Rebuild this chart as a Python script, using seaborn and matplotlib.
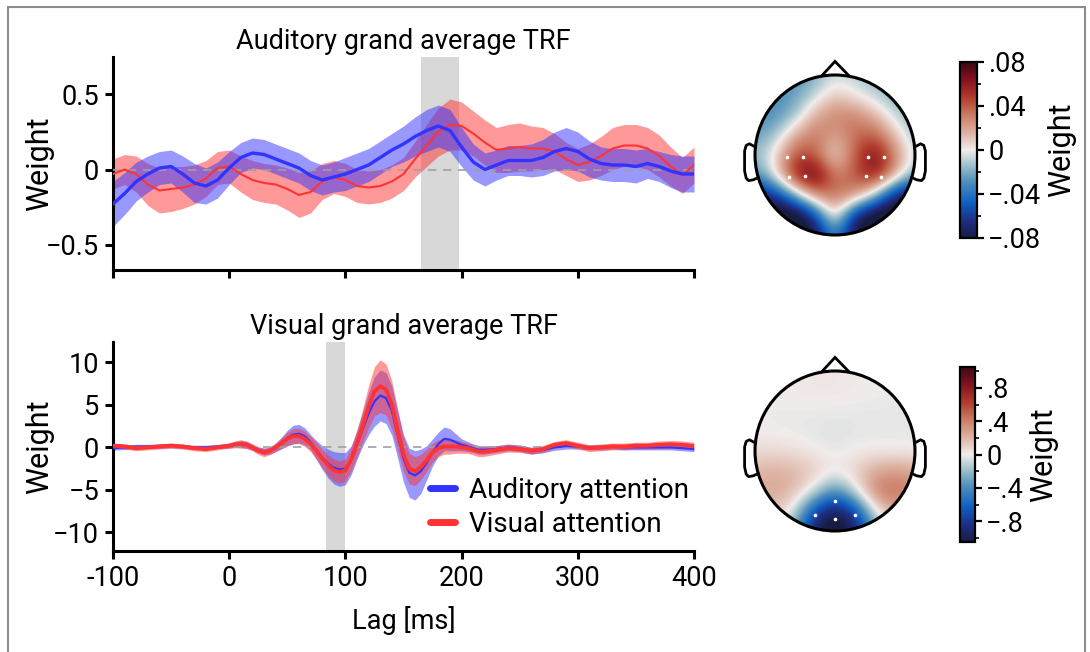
import numpy as np
import pandas as pd
import matplotlib
matplotlib.use("Agg")
import matplotlib.pyplot as plt
import seaborn as sns
from matplotlib.colors import LinearSegmentedColormap, Normalize
from matplotlib.patches import Circle, Rectangle
from matplotlib.lines import Line2D
from matplotlib.cm import ScalarMappable
from matplotlib.ticker import MultipleLocator

# ---------------- data ----------------
# Auditory grand average TRF (sampled every 10 ms)
lag_aud = list(range(-100, 401, 10))
aud_mean_auditory_att = [
    -0.23, -0.16, -0.08, -0.03, 0.01, 0.02, -0.03, -0.09, -0.11, -0.07,
    0.01, 0.08, 0.11, 0.10, 0.07, 0.04, 0.01, -0.04, -0.07, -0.05,
    -0.03, 0.00, 0.03, 0.08, 0.13, 0.17, 0.22, 0.26, 0.29, 0.26,
    0.15, 0.05, 0.00, 0.03, 0.06, 0.06, 0.06, 0.08, 0.12, 0.14,
    0.12, 0.07, 0.04, 0.03, 0.03, 0.02, 0.04, 0.02, -0.01, -0.03, -0.03]
aud_sem_auditory_att = [
    0.15, 0.14, 0.13, 0.12, 0.11, 0.11, 0.12, 0.13, 0.12, 0.12,
    0.11, 0.10, 0.10, 0.10, 0.10, 0.10, 0.10, 0.10, 0.10, 0.10,
    0.11, 0.11, 0.11, 0.11, 0.11, 0.12, 0.13, 0.14, 0.14, 0.14,
    0.13, 0.12, 0.11, 0.10, 0.10, 0.10, 0.11, 0.12, 0.13, 0.14,
    0.13, 0.12, 0.11, 0.11, 0.11, 0.11, 0.10, 0.10, 0.11, 0.12, 0.12]
aud_mean_visual_att = [
    -0.03, 0.00, -0.03, -0.10, -0.14, -0.13, -0.12, -0.10, -0.06, 0.01,
    0.02, -0.03, -0.07, -0.09, -0.10, -0.13, -0.17, -0.15, -0.08, -0.05,
    -0.07, -0.11, -0.12, -0.11, -0.08, -0.03, 0.07, 0.16, 0.25, 0.30,
    0.29, 0.24, 0.18, 0.13, 0.14, 0.15, 0.14, 0.14, 0.12, 0.07,
    0.03, 0.05, 0.09, 0.14, 0.16, 0.16, 0.14, 0.09, 0.02, -0.04, 0.03]
aud_sem_visual_att = [
    0.10, 0.10, 0.12, 0.14, 0.15, 0.15, 0.14, 0.13, 0.12, 0.11,
    0.11, 0.12, 0.13, 0.13, 0.13, 0.14, 0.15, 0.14, 0.12, 0.11,
    0.11, 0.11, 0.11, 0.11, 0.11, 0.11, 0.12, 0.14, 0.16, 0.17,
    0.16, 0.15, 0.15, 0.15, 0.16, 0.16, 0.15, 0.14, 0.12, 0.11,
    0.11, 0.12, 0.13, 0.14, 0.14, 0.14, 0.14, 0.14, 0.13, 0.12, 0.12]

# Visual grand average TRF (10 ms steps outside 0-220 ms, 5 ms steps inside)
lag_vis = list(range(-100, 0, 10)) + list(range(0, 221, 5)) + list(range(230, 401, 10))
vis_mean_auditory_att = [
    -0.1, 0.0, 0.1, 0.1, 0.15, 0.2, 0.1, 0.0, 0.0, 0.1,
    0.2, 0.35, 0.4, 0.3, 0.0, -0.3, -0.5, -0.4, 0.0, 0.5,
    1.1, 1.5, 1.6, 1.3, 0.6, -0.3, -1.2, -1.9, -2.4, -2.6,
    -2.5, -1.5, 0.3, 2.2, 4.0, 5.4, 6.1, 5.8, 4.3, 1.5,
    -1.3, -3.0, -3.3, -2.8, -1.8, -0.6, 0.4, 1.0, 0.9, 0.6,
    0.3, 0.1, -0.1, -0.3, -0.3,
    -0.2, 0.0, -0.1, -0.4, -0.3, 0.0, 0.15, 0.1, 0.0, 0.0,
    0.1, 0.0, 0.0, 0.0, 0.0, 0.0, -0.1, -0.2]
vis_sem_auditory_att = [
    0.25, 0.25, 0.25, 0.25, 0.25, 0.25, 0.25, 0.25, 0.25, 0.25,
    0.3, 0.35, 0.4, 0.4, 0.35, 0.35, 0.4, 0.4, 0.5, 0.7,
    0.9, 1.1, 1.1, 1.0, 0.9, 1.1, 1.4, 1.7, 1.9, 2.0,
    1.9, 1.7, 1.7, 2.0, 2.5, 2.9, 3.0, 3.0, 2.9, 2.8,
    2.8, 2.9, 2.9, 2.6, 2.0, 1.6, 1.4, 1.4, 1.3, 1.0,
    0.7, 0.6, 0.5, 0.5, 0.5,
    0.4, 0.4, 0.4, 0.4, 0.35, 0.35, 0.35, 0.3, 0.3, 0.3,
    0.3, 0.3, 0.3, 0.3, 0.3, 0.3, 0.3, 0.3]
vis_mean_visual_att = [
    0.2, 0.1, -0.1, 0.0, 0.1, 0.2, 0.1, -0.1, -0.2, 0.0,
    0.2, 0.35, 0.4, 0.3, 0.0, -0.4, -0.6, -0.4, 0.0, 0.5,
    1.0, 1.3, 1.35, 1.0, 0.4, -0.4, -1.3, -2.1, -2.7, -2.9,
    -2.7, -1.4, 0.5, 2.6, 4.8, 6.6, 7.2, 6.8, 5.0, 2.0,
    -0.8, -2.5, -2.8, -2.3, -1.5, -0.6, -0.1, 0.1, 0.1, 0.1,
    0.0, -0.1, -0.3, -0.5, -0.5,
    -0.3, -0.1, -0.2, -0.4, -0.2, 0.3, 0.5, 0.2, -0.1, 0.0,
    0.1, 0.1, 0.2, 0.2, 0.3, 0.35, 0.3, 0.15]
vis_sem_visual_att = [
    0.3, 0.3, 0.3, 0.3, 0.3, 0.3, 0.3, 0.3, 0.3, 0.3,
    0.3, 0.4, 0.5, 0.45, 0.4, 0.45, 0.5, 0.45, 0.5, 0.6,
    0.8, 0.9, 0.9, 0.9, 0.9, 1.0, 1.1, 1.2, 1.3, 1.3,
    1.3, 1.4, 1.6, 2.0, 2.5, 2.9, 3.1, 3.0, 2.8, 2.4,
    2.0, 1.8, 1.7, 1.5, 1.3, 1.1, 1.0, 0.9, 0.9, 0.8,
    0.7, 0.6, 0.6, 0.6, 0.55,
    0.5, 0.45, 0.4, 0.4, 0.4, 0.4, 0.4, 0.4, 0.4, 0.4,
    0.4, 0.4, 0.4, 0.4, 0.45, 0.45, 0.45, 0.45]

# Analysis windows (ms) shown as grey bands
aud_window = (165, 198)
vis_window = (83, 100)

conditions = ["Auditory attention", "Visual attention"]

# Scalp maps on a 9x9 grid spanning [-1, 1] (rows run from front to back)
topo_aud = [
    [-0.025, -0.025, -0.030, -0.020, -0.005, -0.010, -0.015, -0.020, -0.020],
    [-0.025, -0.030, -0.025, -0.008, 0.010, 0.000, -0.010, -0.018, -0.020],
    [-0.030, -0.030, -0.015, 0.018, 0.030, 0.030, 0.015, -0.008, -0.020],
    [-0.025, -0.015, 0.018, 0.035, 0.020, 0.035, 0.040, 0.012, -0.015],
    [-0.015, 0.003, 0.045, 0.040, 0.000, 0.040, 0.070, 0.030, -0.008],
    [-0.030, 0.000, 0.060, 0.080, 0.030, 0.040, 0.065, 0.020, -0.020],
    [-0.075, -0.065, -0.020, 0.030, 0.035, 0.030, -0.010, -0.075, -0.085],
    [-0.095, -0.095, -0.095, -0.060, 0.018, -0.070, -0.095, -0.095, -0.095],
    [-0.095, -0.095, -0.095, -0.085, -0.030, -0.085, -0.095, -0.095, -0.095],
]
topo_vis = [
    [0.00, 0.00, 0.01, 0.02, 0.02, 0.01, 0.00, -0.01, -0.01],
    [0.00, 0.00, 0.01, 0.02, 0.02, 0.01, 0.00, -0.01, -0.02],
    [-0.01, -0.01, -0.01, -0.01, -0.02, -0.02, -0.02, -0.02, -0.02],
    [0.00, -0.01, -0.02, -0.03, -0.04, -0.03, -0.02, -0.02, -0.02],
    [0.05, 0.06, 0.04, 0.00, -0.03, 0.00, 0.00, 0.00, -0.01],
    [0.20, 0.22, 0.20, 0.12, 0.03, 0.10, 0.25, 0.30, 0.25],
    [0.22, 0.26, 0.18, -0.05, -0.40, -0.05, 0.40, 0.48, 0.35],
    [0.15, 0.15, -0.05, -0.75, -1.05, -0.75, 0.00, 0.25, 0.20],
    [0.10, 0.05, -0.35, -1.00, -1.20, -1.00, -0.35, 0.05, 0.10],
]
# Highlighted electrodes (head-radius units)
sensors_aud_x = [-0.60, -0.40, -0.57, -0.38, 0.41, 0.61, 0.39, 0.58]
sensors_aud_y = [-0.03, -0.03, -0.27, -0.26, -0.03, -0.03, -0.26, -0.27]
sensors_vis_x = [0.00, -0.25, 0.00, 0.25]
sensors_vis_y = [-0.62, -0.80, -0.85, -0.80]

aud_cbar_ticks = [-0.08, -0.04, 0, 0.04, 0.08]
aud_cbar_labels = ["\u2212.08", "\u2212.04", "0", ".04", ".08"]
vis_cbar_ticks = [-0.8, -0.4, 0, 0.4, 0.8]
vis_cbar_labels = ["\u2212.8", "\u2212.4", "0", ".4", ".8"]

# ---------------- style ----------------
sns.set_theme(style="ticks")
plt.rcParams["font.family"] = ["Roboto", "DejaVu Sans"]
plt.rcParams["axes.unicode_minus"] = True
for key in ("text.color", "axes.labelcolor", "xtick.color", "ytick.color", "axes.edgecolor"):
    plt.rcParams[key] = "black"

FS = 19.5
FS_LABEL = 22
BLUE = (0.2, 0.2, 1.0)
RED = (1.0, 0.2, 0.2)

balance = LinearSegmentedColormap.from_list("balance_like", [
    (0.00, "#181c43"), (0.10, "#1d2f86"), (0.20, "#0f5fc2"),
    (0.32, "#4f8fba"), (0.42, "#a5c4cd"), (0.50, "#f1eceb"),
    (0.60, "#ddb2a2"), (0.70, "#ca7b63"), (0.80, "#b23b2d"),
    (0.90, "#85111f"), (1.00, "#3c0912")])

W, H = 1090, 652
fig = plt.figure(figsize=(W / 100, H / 100), dpi=100)
fig.patch.set_facecolor("white")


def box(l, t, r, b):
    return [l / W, 1 - b / H, (r - l) / W, (b - t) / H]


def trf_panel(ax, lags, series, draw_order, widths, window, ylim, yticks, ylabels, title):
    ax.axvspan(*window, color="#d8d8d8", lw=0, zorder=0)
    ax.axhline(0, color="#a0a0a0", lw=1.2, ls=(0, (5, 4)), zorder=4)
    colors = {"Auditory attention": BLUE, "Visual attention": RED}
    z = 1
    for name in draw_order:
        mean, sem = series[name]
        df = pd.DataFrame({"lag": lags, "weight": mean, "sem": sem})
        ax.fill_between(df["lag"], df["weight"] - df["sem"], df["weight"] + df["sem"],
                        color=colors[name], alpha=0.5, lw=0, zorder=z)
        sns.lineplot(data=df, x="lag", y="weight", ax=ax, color=colors[name],
                     lw=widths[name], zorder=z + 4, legend=False)
        z += 1
    ax.set_xlim(-100, 400)
    ax.set_ylim(*ylim)
    ax.set_xticks([-100, 0, 100, 200, 300, 400])
    ax.set_yticks(yticks)
    ax.set_yticklabels(ylabels)
    ax.set_ylabel("Weight", fontsize=FS_LABEL)
    ax.yaxis.set_label_coords(-0.102, 0.5)
    ax.set_xlabel("")
    ax.set_title(title, fontsize=FS, pad=6)
    for s in ("top", "right"):
        ax.spines[s].set_visible(False)
    for s in ("left", "bottom"):
        ax.spines[s].set_linewidth(2.2)
    ax.tick_params(width=2.2, length=6, labelsize=FS, pad=4)


ax1 = fig.add_axes(box(113, 57, 694, 270))
trf_panel(ax1, lag_aud,
          {"Auditory attention": (aud_mean_auditory_att, aud_sem_auditory_att),
           "Visual attention": (aud_mean_visual_att, aud_sem_visual_att)},
          ["Visual attention", "Auditory attention"],
          {"Auditory attention": 2.4, "Visual attention": 1.5},
          aud_window, (-0.67, 0.75), [-0.5, 0, 0.5], ["\u22120.5", "0", "0.5"],
          "Auditory grand average TRF")
ax1.set_xticklabels([])

ax2 = fig.add_axes(box(113, 342, 694, 551))
trf_panel(ax2, lag_vis,
          {"Auditory attention": (vis_mean_auditory_att, vis_sem_auditory_att),
           "Visual attention": (vis_mean_visual_att, vis_sem_visual_att)},
          ["Auditory attention", "Visual attention"],
          {"Auditory attention": 1.6, "Visual attention": 2.8},
          vis_window, (-12.2, 12.4), [-10, -5, 0, 5, 10],
          ["\u221210", "\u22125", "0", "5", "10"],
          "Visual grand average TRF")
ax2.set_xticklabels(["-100", "0", "100", "200", "300", "400"])
ax2.set_xlabel("Lag [ms]", fontsize=FS, labelpad=10)

handles = [Line2D([], [], color=BLUE, lw=5), Line2D([], [], color=RED, lw=5)]
ax2.legend(handles, conditions, loc="lower right", bbox_to_anchor=(1.01, 0.01),
           frameon=False, fontsize=20, handlelength=0.9, handletextpad=0.5,
           labelspacing=0.25, borderaxespad=0)


def topomap(ax, grid, sx, sy, vmax):
    ax.set_xlim(-1.25, 1.25)
    ax.set_ylim(-1.25, 1.25)
    ax.set_aspect("equal")
    ax.axis("off")
    im = ax.imshow(np.array(grid), cmap=balance, vmin=-vmax, vmax=vmax,
                   extent=(-1.125, 1.125, -1.125, 1.125), origin="upper",
                   interpolation="bicubic", zorder=1)
    clip = Circle((0, 0), 1.0, transform=ax.transData)
    im.set_clip_path(clip)
    ax.add_patch(Circle((0, 0), 1.0, fill=False, lw=2.2, ec="black", zorder=3))
    # nose
    ax.plot([-0.17, 0.0, 0.18], [0.985, 1.17, 0.985], color="black", lw=2.0,
            solid_joinstyle="miter", zorder=3)
    # ears
    ear_x = [0.995, 1.07, 1.11, 1.13, 1.13, 1.11, 1.08, 1.02, 0.96]
    ear_y = [0.10, 0.14, 0.12, 0.05, -0.20, -0.29, -0.32, -0.31, -0.28]
    for sgn in (-1, 1):
        ax.plot([sgn * v for v in ear_x], ear_y, color="black", lw=2.0, zorder=3)
    ax.scatter(sx, sy, s=7, color="white", zorder=4, linewidths=0)


tax1 = fig.add_axes(box(735, 55, 935, 255))
topomap(tax1, topo_aud, sensors_aud_x, sensors_aud_y, 0.08)
tax2 = fig.add_axes(box(735, 351, 935, 551))
topomap(tax2, topo_vis, sensors_vis_x, sensors_vis_y, 1.05)


def colorbar(cax, vmax, ticks, labels, minor):
    sm = ScalarMappable(norm=Normalize(-vmax, vmax), cmap=balance)
    cb = fig.colorbar(sm, cax=cax)
    cb.set_ticks(ticks)
    cb.set_ticklabels(labels)
    cb.ax.yaxis.set_minor_locator(MultipleLocator(minor))
    cb.outline.set_linewidth(1.6)
    cb.ax.tick_params(which="major", labelsize=FS, length=5, width=1.6, pad=3)
    cb.ax.tick_params(which="minor", length=3, width=1.2)
    cb.set_label("Weight", fontsize=FS_LABEL, labelpad=4)


cax1 = fig.add_axes(box(960, 62, 977, 238))
colorbar(cax1, 0.08, aud_cbar_ticks, aud_cbar_labels, 0.02)
cax2 = fig.add_axes(box(960, 367, 975, 542))
colorbar(cax2, 1.05, vis_cbar_ticks, vis_cbar_labels, 0.2)

# thin grey frame around the figure
fig.patches.append(Rectangle((8 / W, -0.05), (1085 - 8) / W, 1 - 7 / H + 0.05,
                             transform=fig.transFigure, fill=False,
                             ec="#8c8c8c", lw=1.5))

fig.savefig("out.png", dpi=100, facecolor="white")
